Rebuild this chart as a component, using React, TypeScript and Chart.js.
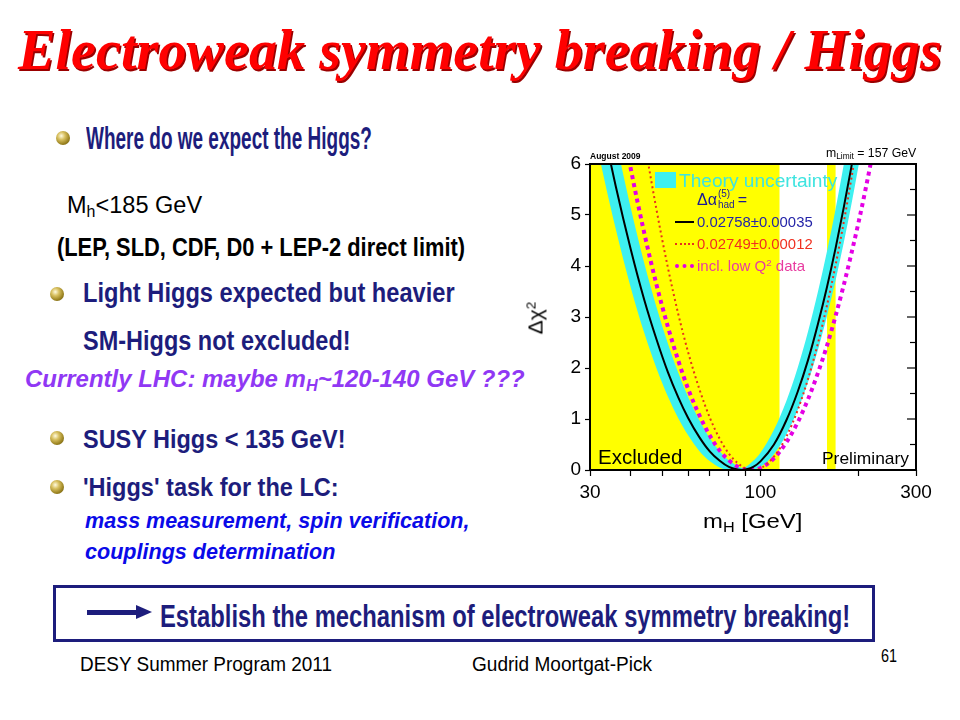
import React, { useEffect, useLayoutEffect, useRef } from "react";
import { Chart, registerables } from "chart.js";

Chart.register(...registerables);

// ---------------- data ----------------
// Theory uncertainty band: lower and upper edge on a common mass grid [GeV]
const BAND_MASS = [30, 33, 36, 40, 44, 48, 52, 56, 60, 65, 70, 75, 80, 85, 88, 90, 95, 100, 110, 120, 130, 140, 150, 160, 170, 180, 190, 200, 215, 230];
const BAND_LOW = [7.04, 5.77, 4.72, 3.58, 2.69, 1.99, 1.44, 1.01, 0.68, 0.37, 0.17, 0.05, 0.0, 0.0, 0.0, 0.0, 0.01, 0.06, 0.31, 0.69, 1.17, 1.73, 2.35, 3.02, 3.72, 4.45, 5.2, 5.97, 7.13, 8.32];
const BAND_HIGH = [9.16, 7.7, 6.48, 5.14, 4.06, 3.19, 2.48, 1.9, 1.43, 0.97, 0.62, 0.37, 0.19, 0.08, 0.04, 0.06, 0.18, 0.34, 0.79, 1.35, 2.0, 2.72, 3.49, 4.29, 5.12, 5.98, 6.84, 7.71, 9.0, 10.3];

// Δα_had = 0.02758 ± 0.00035 (solid black)
const BLACK_MASS = [30, 33, 36, 40, 44, 48, 52, 56, 60, 65, 70, 75, 80, 85, 88, 90, 95, 100, 110, 120, 130, 140, 150, 160, 170, 180, 190, 200];
const BLACK_CHI2 = [8.07, 6.7, 5.56, 4.33, 3.34, 2.56, 1.92, 1.42, 1.02, 0.64, 0.36, 0.18, 0.06, 0.01, 0.0, 0.01, 0.06, 0.17, 0.5, 0.97, 1.53, 2.16, 2.86, 3.59, 4.35, 5.14, 5.94, 6.75];

// Δα_had = 0.02749 ± 0.00012 (red dotted)
const RED_MASS = [40, 44, 48, 52, 56, 60, 65, 70, 75, 80, 85, 90, 95, 100, 110, 120, 130, 140, 150, 160, 170, 180, 190, 200];
const RED_CHI2 = [8.18, 6.48, 5.1, 3.97, 3.05, 2.31, 1.58, 1.02, 0.61, 0.32, 0.14, 0.03, 0.0, 0.03, 0.26, 0.65, 1.17, 1.79, 2.48, 3.23, 4.02, 4.85, 5.71, 6.58];

// incl. low Q² data (magenta dotted)
const MAG_MASS = [36, 40, 44, 48, 52, 56, 60, 65, 70, 75, 80, 85, 90, 93, 100, 110, 120, 130, 140, 150, 160, 170, 180, 190, 200, 210, 220, 230];
const MAG_CHI2 = [7.48, 5.91, 4.65, 3.63, 2.81, 2.14, 1.59, 1.07, 0.67, 0.38, 0.19, 0.07, 0.01, 0.0, 0.04, 0.23, 0.54, 0.93, 1.39, 1.9, 2.44, 3.02, 3.62, 4.24, 4.86, 5.5, 6.15, 6.8];

// Excluded regions (yellow)
const EXCLUDED_LO = [30, 160];
const EXCLUDED_HI = [114.4, 170];

// Axes
const X_MIN = 30;
const X_MAX = 300;
const X_TICKS = [30, 40, 50, 60, 70, 80, 90, 100, 200, 300];
const X_LABELS = [30, 100, 300];
const Y_MIN = 0;
const Y_MAX = 6;
const Y_TICKS = [0, 0.5, 1, 1.5, 2, 2.5, 3, 3.5, 4, 4.5, 5, 5.5, 6];

// ---------------- styles ----------------
const SANS = '"Liberation Sans", Arial, sans-serif';
const SERIF = '"Liberation Serif", "Times New Roman", serif';
const NAVY = "#1d1d7c";
const CYAN = "#3ef0f0";
const YELLOW = "#ffff00";

type FitProps = {
  x: number;
  base: number;
  w: number;
  size: number;
  family?: string;
  weight?: string | number;
  italic?: boolean;
  color?: string;
  shadow?: string;
  children: React.ReactNode;
};

function Fit({ x, base, w, size, family = SANS, weight = "normal", italic = false, color = "#000", shadow, children }: FitProps) {
  const ref = useRef<HTMLDivElement>(null);
  useLayoutEffect(() => {
    const el = ref.current;
    if (!el) return;
    el.style.transform = "none";
    const nat = el.offsetWidth;
    if (nat > 0) el.style.transform = `scaleX(${w / nat})`;
  }, [w]);
  const asc = family === SERIF ? 0.84 : 0.85;
  return (
    <div
      ref={ref}
      style={{
        position: "absolute",
        left: x,
        top: base - asc * size,
        fontFamily: family,
        fontSize: size,
        fontWeight: weight as any,
        fontStyle: italic ? "italic" : "normal",
        color,
        lineHeight: 1,
        whiteSpace: "nowrap",
        transformOrigin: "0 0",
        textShadow: shadow,
      }}
    >
      {children}
    </div>
  );
}

const Sub = ({ children }: { children: React.ReactNode }) => (
  <sub style={{ fontSize: "0.68em", verticalAlign: "-0.28em", lineHeight: 0 }}>{children}</sub>
);
const Sup = ({ children }: { children: React.ReactNode }) => (
  <sup style={{ fontSize: "0.65em", verticalAlign: "0.55em", lineHeight: 0 }}>{children}</sup>
);

function Bullet({ cx, cy }: { cx: number; cy: number }) {
  const r = 7;
  return (
    <div
      style={{
        position: "absolute",
        left: cx - r,
        top: cy - r,
        width: 2 * r,
        height: 2 * r,
        borderRadius: "50%",
        background: "radial-gradient(circle at 38% 35%, #fffbe0 0%, #d8c060 30%, #9a8220 65%, #5a4a08 100%)",
      }}
    />
  );
}

function HiggsChart() {
  const canvasRef = useRef<HTMLCanvasElement>(null);
  useEffect(() => {
    const canvas = canvasRef.current;
    if (!canvas) return;

    const bgPlugin = {
      id: "excludedBands",
      beforeDatasetsDraw(chart: any) {
        const { ctx, chartArea, scales } = chart;
        ctx.save();
        ctx.fillStyle = YELLOW;
        for (let i = 0; i < EXCLUDED_LO.length; i++) {
          const x1 = scales.x.getPixelForValue(EXCLUDED_LO[i]);
          const x2 = scales.x.getPixelForValue(EXCLUDED_HI[i]);
          ctx.fillRect(x1, chartArea.top, x2 - x1, chartArea.bottom - chartArea.top);
        }
        ctx.restore();
      },
    };

    const framePlugin = {
      id: "frame",
      afterDraw(chart: any) {
        const { ctx, chartArea, scales } = chart;
        ctx.save();
        ctx.strokeStyle = "#000";
        ctx.lineWidth = 1.2;
        for (const v of Y_TICKS) {
          const y = scales.y.getPixelForValue(v);
          const len = Number.isInteger(v) ? 9 : 6;
          ctx.beginPath();
          ctx.moveTo(chartArea.right, y);
          ctx.lineTo(chartArea.right - len, y);
          ctx.stroke();
        }
        ctx.lineWidth = 2;
        ctx.strokeRect(chartArea.left, chartArea.top, chartArea.right - chartArea.left, chartArea.bottom - chartArea.top);
        ctx.restore();
      },
    };

    const pts = (xs: number[], ys: number[]) => xs.map((m, i) => ({ x: m, y: ys[i] }));

    const chart = new Chart(canvas, {
      type: "line",
      data: {
        datasets: [
          {
            label: "0.02758±0.00035",
            data: pts(BLACK_MASS, BLACK_CHI2),
            borderColor: "#000000",
            borderWidth: 2,
            pointRadius: 0,
            fill: false,
            cubicInterpolationMode: "monotone",
          },
          {
            label: "0.02749±0.00012",
            data: pts(RED_MASS, RED_CHI2),
            borderColor: "#e8321c",
            borderWidth: 2,
            borderDash: [2, 3],
            pointRadius: 0,
            fill: false,
            cubicInterpolationMode: "monotone",
          },
          {
            label: "incl. low Q2 data",
            data: pts(MAG_MASS, MAG_CHI2),
            borderColor: "#e400e4",
            borderWidth: 4,
            borderDash: [4, 4],
            pointRadius: 0,
            fill: false,
            cubicInterpolationMode: "monotone",
          },
          {
            label: "band high",
            data: pts(BAND_MASS, BAND_HIGH),
            borderColor: "rgba(0,0,0,0)",
            borderWidth: 1,
            backgroundColor: CYAN,
            pointRadius: 0,
            fill: "+1",
            cubicInterpolationMode: "monotone",
          },
          {
            label: "band low",
            data: pts(BAND_MASS, BAND_LOW),
            borderColor: "rgba(0,0,0,0)",
            borderWidth: 1,
            pointRadius: 0,
            fill: false,
            cubicInterpolationMode: "monotone",
          },
        ],
      },
      options: {
        animation: false,
        responsive: false,
        events: [],
        layout: { padding: { top: 24, right: 24, left: 0, bottom: 0 } },
        plugins: { legend: { display: false }, tooltip: { enabled: false } },
        scales: {
          x: {
            type: "logarithmic",
            min: X_MIN,
            max: X_MAX,
            afterBuildTicks: (s: any) => {
              s.ticks = X_TICKS.map((v) => ({ value: v }));
            },
            afterFit: (s: any) => {
              s.height = 70;
            },
            ticks: {
              autoSkip: false,
              maxRotation: 0,
              padding: 5,
              color: "#000",
              font: { family: SANS, size: 19 },
              callback: (v: any) => (X_LABELS.includes(Number(v)) ? String(v) : ""),
            },
            grid: { drawOnChartArea: false, drawTicks: true, tickLength: 6, color: "#000", tickWidth: 1.2 },
            border: { display: false },
          },
          y: {
            type: "linear",
            min: Y_MIN,
            max: Y_MAX,
            afterBuildTicks: (s: any) => {
              s.ticks = Y_TICKS.map((v) => ({ value: v }));
            },
            afterFit: (s: any) => {
              s.width = 90;
            },
            ticks: {
              padding: 4,
              color: "#000",
              font: { family: SANS, size: 19 },
              callback: (v: any) => (Number.isInteger(Number(v)) ? String(v) : ""),
            },
            grid: { drawOnChartArea: false, drawTicks: true, tickLength: 5, color: "#000", tickWidth: 1.2 },
            border: { display: false },
          },
        },
      } as any,
      plugins: [bgPlugin, framePlugin],
    });
    return () => chart.destroy();
  }, []);

  return (
    <canvas
      ref={canvasRef}
      width={440}
      height={400}
      style={{ position: "absolute", left: 500, top: 140, width: 440, height: 400 }}
    />
  );
}

export default function App() {
  return (
    <div
      style={{
        position: "absolute",
        left: 0,
        top: 0,
        width: 960,
        height: 720,
        background: "#fff",
        overflow: "hidden",
        fontFamily: SANS,
      }}
    >
      {/* Title */}
      <Fit x={18} base={69} w={924} size={56} family={SERIF} weight="bold" italic color="#ff0000" shadow="1.5px 1.5px 0 #9a0000">
        Electroweak symmetry breaking / Higgs
      </Fit>

      {/* Left column */}
      <Bullet cx={63} cy={138} />
      <Fit x={86} base={149} w={286} size={31} weight="bold" color={NAVY}>
        Where do we expect the Higgs?
      </Fit>
      <Fit x={67} base={214} w={135} size={23} color="#000">
        M<Sub>h</Sub>&lt;185 GeV
      </Fit>
      <Fit x={57} base={256} w={408} size={25} weight="bold" color="#000">
        (LEP, SLD, CDF, D0 + LEP-2 direct limit)
      </Fit>
      <Bullet cx={57} cy={294} />
      <Fit x={83} base={303} w={372} size={27} weight="bold" color={NAVY}>
        Light Higgs expected but heavier
      </Fit>
      <Fit x={83} base={351} w={268} size={27} weight="bold" color={NAVY}>
        SM-Higgs not excluded!
      </Fit>
      <Fit x={25} base={388} w={500} size={23} weight="bold" italic color="#9038f4">
        Currently LHC: maybe m<Sub>H</Sub>~120-140 GeV ???
      </Fit>
      <Bullet cx={57} cy={438} />
      <Fit x={83} base={448} w={263} size={25} weight="bold" color={NAVY}>
        SUSY Higgs &lt; 135 GeV!
      </Fit>
      <Bullet cx={57} cy={487} />
      <Fit x={83} base={496} w={256} size={25} weight="bold" color={NAVY}>
        'Higgs' task for the LC:
      </Fit>
      <Fit x={85} base={529} w={385} size={22} weight="bold" italic color="#0a0ae8">
        mass measurement, spin verification,
      </Fit>
      <Fit x={85} base={560} w={250} size={22} weight="bold" italic color="#0a0ae8">
        couplings determination
      </Fit>

      {/* Box */}
      <div
        style={{
          position: "absolute",
          left: 53,
          top: 585,
          width: 822,
          height: 57,
          border: `3px solid ${NAVY}`,
          boxSizing: "border-box",
        }}
      />
      <div style={{ position: "absolute", left: 87, top: 610, width: 50, height: 5, background: NAVY }} />
      <div
        style={{
          position: "absolute",
          left: 136,
          top: 605,
          width: 0,
          height: 0,
          borderTop: "7.5px solid transparent",
          borderBottom: "7.5px solid transparent",
          borderLeft: `16px solid ${NAVY}`,
        }}
      />
      <Fit x={160} base={627} w={690} size={31} weight="bold" color={NAVY}>
        Establish the mechanism of electroweak symmetry breaking!
      </Fit>

      {/* Footer */}
      <Fit x={80} base={671} w={252} size={20} color="#000">
        DESY Summer Program 2011
      </Fit>
      <Fit x={472} base={671} w={180} size={20} color="#000">
        Gudrid Moortgat-Pick
      </Fit>
      <Fit x={881} base={662} w={16} size={18} color="#000">
        61
      </Fit>

      {/* Chart */}
      <HiggsChart />

      {/* Chart annotations */}
      <Fit x={590} base={160} w={51} size={9} weight="bold" color="#000">
        August 2009
      </Fit>
      <Fit x={826} base={157} w={90} size={12} color="#000">
        m<Sub>Limit</Sub> = 157 GeV
      </Fit>
      <div style={{ position: "absolute", left: 655, top: 172, width: 21, height: 16, background: CYAN }} />
      <Fit x={679} base={187} w={158} size={19} color="#3ee4e0">
        Theory uncertainty
      </Fit>
      <div
        style={{
          position: "absolute",
          left: 697,
          top: 189,
          color: "#1a1a96",
          fontFamily: SANS,
          fontSize: 16,
          lineHeight: 1,
          whiteSpace: "nowrap",
          display: "flex",
          alignItems: "center",
        }}
      >
        <span>Δα</span>
        <span
          style={{
            display: "inline-flex",
            flexDirection: "column",
            fontSize: 10,
            lineHeight: 1,
            margin: "0 3px 0 1px",
          }}
        >
          <span style={{ marginBottom: 1 }}>(5)</span>
          <span>had</span>
        </span>
        <span>=</span>
      </div>
      <div style={{ position: "absolute", left: 675, top: 221, width: 19, height: 0, borderTop: "2px solid #000" }} />
      <Fit x={697} base={227} w={116} size={15} color="#2424a8">
        0.02758±0.00035
      </Fit>
      <div style={{ position: "absolute", left: 675, top: 243, width: 19, height: 0, borderTop: "2px dotted #e8321c" }} />
      <Fit x={697} base={249} w={116} size={15} color="#f03020">
        0.02749±0.00012
      </Fit>
      <div style={{ position: "absolute", left: 675, top: 264, width: 19, height: 0, borderTop: "4px dotted #e400e4" }} />
      <Fit x={697} base={271} w={108} size={15} color="#e83ca0">
        incl. low Q<Sup>2</Sup> data
      </Fit>
      <Fit x={598} base={464} w={84} size={20} color="#000">
        Excluded
      </Fit>
      <Fit x={822} base={464} w={87} size={17} color="#000">
        Preliminary
      </Fit>

      {/* Axis titles */}
      <div
        style={{
          position: "absolute",
          left: 535,
          top: 318,
          transform: "translate(-50%, -50%) rotate(-90deg)",
          fontFamily: SANS,
          fontSize: 21,
          lineHeight: 1,
          whiteSpace: "nowrap",
          color: "#000",
        }}
      >
        Δχ<Sup>2</Sup>
      </div>
      <Fit x={703} base={528} w={99} size={21} color="#000">
        m<Sub>H</Sub> [GeV]
      </Fit>
    </div>
  );
}
